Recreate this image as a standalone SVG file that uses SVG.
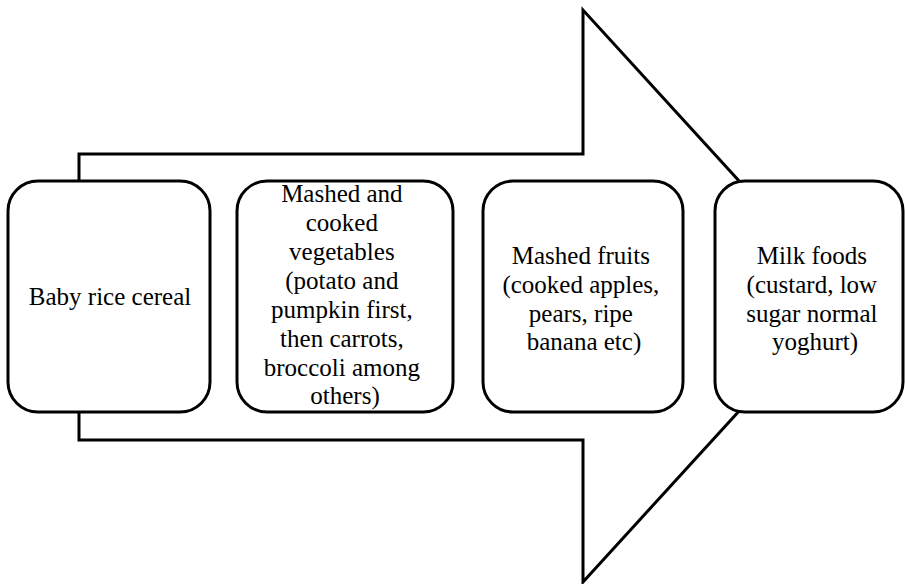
<svg xmlns="http://www.w3.org/2000/svg" width="905" height="584" viewBox="0 0 905 584">
<style>
.box{fill:#fff;stroke:#000;stroke-width:3}
.arrow{fill:#fff;stroke:#000;stroke-width:3;stroke-linejoin:miter}
.t{font-family:"Times New Roman",Times,"Liberation Serif","Noto Serif","DejaVu Serif",serif;font-size:25px;fill:#000;text-anchor:middle}
</style>
<rect width="905" height="584" fill="#fff"/>
<g id="connectors">
<path class="arrow" d="M79,154 H583 V10 L844,296 L583,582 V440 H79 Z"/>
</g>
<g id="node1">
<rect class="box" x="8" y="181" width="202" height="231" rx="30"/>
<text class="t" x="110" y="305">Baby rice cereal</text>
</g>
<g id="node2">
<rect class="box" x="237" y="181" width="216" height="231" rx="30"/>
<text class="t">
<tspan x="345" y="202">Mashed and</tspan>
<tspan x="345" y="231">cooked</tspan>
<tspan x="345" y="260">vegetables</tspan>
<tspan x="345" y="289">(potato and</tspan>
<tspan x="345" y="318">pumpkin first,</tspan>
<tspan x="345" y="347">then carrots,</tspan>
<tspan x="345" y="376">broccoli among</tspan>
<tspan x="345" y="404">others)</tspan>
</text>
</g>
<g id="node3">
<rect class="box" x="483" y="181" width="200" height="231" rx="30"/>
<text class="t">
<tspan x="584" y="264">Mashed fruits</tspan>
<tspan x="584" y="293">(cooked apples,</tspan>
<tspan x="584" y="322">pears, ripe</tspan>
<tspan x="584" y="350">banana etc)</tspan>
</text>
</g>
<g id="node4">
<rect class="box" x="715" y="181" width="188" height="231" rx="30"/>
<text class="t">
<tspan x="815" y="264">Milk foods</tspan>
<tspan x="815" y="293">(custard, low</tspan>
<tspan x="815" y="322">sugar normal</tspan>
<tspan x="815" y="350">yoghurt)</tspan>
</text>
</g>
</svg>
